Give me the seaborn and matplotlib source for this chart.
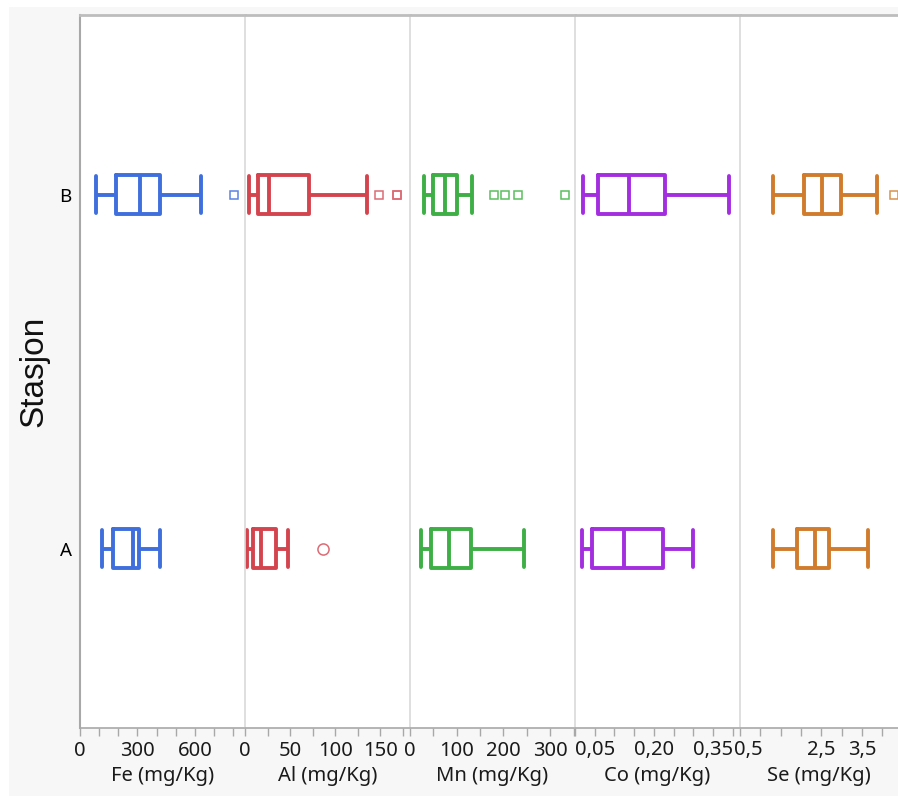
import numpy as np
import pandas as pd
import seaborn as sns
import matplotlib.pyplot as plt
from matplotlib.patches import Rectangle
from matplotlib.ticker import FixedLocator, FixedFormatter
from matplotlib.transforms import ScaledTranslation

sns.set_theme(style='white')
plt.rcParams['font.family'] = ['Noto Sans', 'DejaVu Sans']

stations = ['B', 'A']
elements = ['Fe', 'Al', 'Mn', 'Co', 'Se']
xlabels = ['Fe (mg/Kg)', 'Al (mg/Kg)', 'Mn (mg/Kg)', 'Co (mg/Kg)', 'Se (mg/Kg)']

# low whisker, Q1, median, Q3, high whisker
fe_b = [84, 188, 313, 418, 630]
fe_a = [113, 174, 278, 310, 418]
al_b = [4.8, 14.8, 27, 70.6, 135.7]
al_a = [2.2, 8.5, 18, 34.6, 48]
mn_b = [30, 50, 75, 100, 132]
mn_a = [23, 44, 84, 130, 244]
co_b = [0.021, 0.057, 0.138, 0.227, 0.389]
co_a = [0.017, 0.043, 0.123, 0.223, 0.298]
se_b = [1.31, 2.08, 2.51, 2.98, 3.88]
se_a = [1.31, 1.91, 2.35, 2.69, 3.64]

# outliers
fe_b_out = [804]
fe_a_out = []
al_b_out = [148.8, 169, 169]
al_a_out = [86]
mn_b_out = [180, 203, 231, 332]
mn_a_out = []
co_b_out = []
co_a_out = []
se_b_out = [4.29]
se_a_out = []

# axis ranges and ticks
xlims = {'Fe': (0, 861), 'Al': (0, 183), 'Mn': (0, 353), 'Co': (0, 0.418), 'Se': (0.5, 4.39)}
major_ticks = {'Fe': [0, 300, 600], 'Al': [0, 50, 100, 150], 'Mn': [0, 100, 200, 300],
               'Co': [0.05, 0.20, 0.35], 'Se': [0.5, 2.5, 3.5]}
major_labels = {'Fe': ['0', '300', '600'], 'Al': ['0', '50', '100', '150'],
                'Mn': ['0', '100', '200', '300'], 'Co': ['0,05', '0,20', '0,35'],
                'Se': ['0,5', '2,5', '3,5']}
minor_step = {'Fe': 100, 'Al': 25, 'Mn': 50, 'Co': 0.05, 'Se': 0.5}

summaries = {('Fe', 'B'): (fe_b, fe_b_out), ('Fe', 'A'): (fe_a, fe_a_out),
             ('Al', 'B'): (al_b, al_b_out), ('Al', 'A'): (al_a, al_a_out),
             ('Mn', 'B'): (mn_b, mn_b_out), ('Mn', 'A'): (mn_a, mn_a_out),
             ('Co', 'B'): (co_b, co_b_out), ('Co', 'A'): (co_a, co_a_out),
             ('Se', 'B'): (se_b, se_b_out), ('Se', 'A'): (se_a, se_a_out)}

rows = []
for (el, st), (s, out) in summaries.items():
    # repeat the quartiles so the box statistics land exactly on the read values
    vals = [s[0]] + [s[1]] * 5 + [s[2]] * 5 + [s[3]] * 5 + [s[4]] + out
    rows += [(el, st, v) for v in vals]
df = pd.DataFrame(rows, columns=['element', 'station', 'value'])

colors = {'Fe': '#3f6fdd', 'Al': '#d4444f', 'Mn': '#3daf44', 'Co': '#a32ee0', 'Se': '#d07c2c'}
flier_colors = {'Fe': '#5b84e3', 'Al': '#dc6b74', 'Mn': '#5cbf5f', 'Co': '#b55ce6', 'Se': '#d8924f'}
whis = {'Fe': 1.5, 'Al': 1.3, 'Mn': 1.5, 'Co': 1.5, 'Se': 1.3}
flier_marker = {('Al', 'A'): ('o', 8)}

fig, axes = plt.subplots(1, 5, figsize=(8.98, 7.96), dpi=100, sharey=True,
                         gridspec_kw=dict(width_ratios=[165, 165, 165, 165, 158], wspace=0))
fig.set_facecolor('#f7f7f7')
fig.subplots_adjust(left=80 / 898, right=1.0, top=1 - 15 / 796, bottom=1 - 728 / 796)
fig.patches.append(Rectangle((0, 1 - 7 / 796), 1, 7 / 796, transform=fig.transFigure,
                             facecolor='white', edgecolor='none', zorder=-1))
fig.patches.append(Rectangle((0, 0), 9 / 898, 1, transform=fig.transFigure,
                             facecolor='white', edgecolor='none', zorder=-1))

for i, (ax, el) in enumerate(zip(axes, elements)):
    for st in stations:
        d = df[(df.element == el) & (df.station == st)]
        mk, ms = flier_marker.get((el, st), ('s', 6))
        sns.boxplot(data=d, x='value', y='station', order=stations, orient='h', ax=ax,
                    fill=False, color=colors[el], width=0.11, linewidth=2.8, whis=whis[el],
                    capwidths=0.105,
                    flierprops=dict(marker=mk, markersize=ms, markerfacecolor='none',
                                    markeredgecolor=flier_colors[el], markeredgewidth=1.1))
    ax.set_facecolor('white')
    ax.set_xlim(*xlims[el])
    ax.set_ylim(1.506, -0.508)
    lo, hi = xlims[el]
    ax.xaxis.set_major_locator(FixedLocator(major_ticks[el]))
    ax.xaxis.set_major_formatter(FixedFormatter(major_labels[el]))
    ax.xaxis.set_minor_locator(FixedLocator(np.arange(lo, hi, minor_step[el])))
    ax.tick_params(axis='x', which='both', bottom=True, direction='out', length=6,
                   width=1, color='#a8a8a8', labelsize=14.5, pad=3, labelcolor='#1a1a1a')
    ax.set_xlabel(xlabels[i], fontsize=14.5, color='#1a1a1a', labelpad=4)
    ax.spines['right'].set_visible(False)
    ax.spines['top'].set_color('#bdbdbd')
    ax.spines['top'].set_linewidth(2)
    ax.spines['bottom'].set_color('#a8a8a8')
    ax.spines['bottom'].set_linewidth(1.2)
    if i == 0:
        ax.spines['left'].set_color('#a8a8a8')
        ax.spines['left'].set_linewidth(1.5)
        ax.set_ylabel('Stasjon', fontsize=24, family=['Liberation Sans'], labelpad=7,
                      color='#111111')
        ax.tick_params(axis='y', left=False, labelsize=13.5, pad=0, labelcolor='#000000')
    else:
        ax.spines['left'].set_color('#d9d9d9')
        ax.spines['left'].set_linewidth(1.2)
        ax.set_ylabel('')
        ax.tick_params(axis='y', left=False, labelleft=False)

# nudge the first Se label right, as in the original layout
se_first = axes[4].get_xticklabels()[0]
se_first.set_transform(se_first.get_transform() + ScaledTranslation(6 / 72, 0, fig.dpi_scale_trans))

plt.savefig('out.png', dpi=100, facecolor=fig.get_facecolor())
